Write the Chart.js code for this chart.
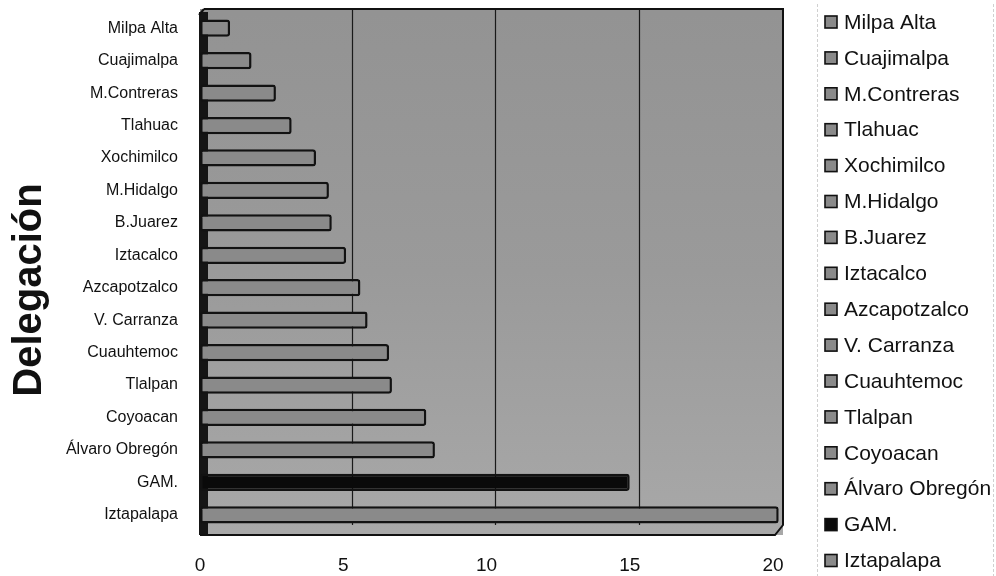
<!DOCTYPE html>
<html>
<head>
<meta charset="utf-8">
<script src="https://cdn.jsdelivr.net/npm/chart.js@4.4.1/dist/chart.umd.min.js"></script>
<style>
html,body{margin:0;padding:0;background:#fff;}
#wrap{width:996px;height:576px;position:relative;}
</style>
</head>
<body>
<div id="wrap"><canvas id="c" width="996" height="576"></canvas></div>
<script>
const categories = ['Milpa Alta','Cuajimalpa','M.Contreras','Tlahuac','Xochimilco','M.Hidalgo','B.Juarez','Iztacalco','Azcapotzalco','V. Carranza','Cuauhtemoc','Tlalpan','Coyoacan','Álvaro Obregón','GAM.','Iztapalapa'];
const values = [1.05, 1.8, 2.65, 3.2, 4.05, 4.5, 4.6, 5.1, 5.6, 5.85, 6.6, 6.7, 7.9, 8.2, 15.0, 20.2];
const xTicks = [0, 5, 10, 15, 20];
const axisTitle = 'Delegación';

const FONT = '"Liberation Sans", Arial, sans-serif';
const barFill = categories.map(c => c === 'GAM.' ? '#0a0a0a' : '#8a8a8a');

const bgPlugin = {
  id: 'bg3d',
  beforeDatasetsDraw(chart) {
    const {ctx, chartArea: a, scales: {x}} = chart;
    ctx.save();
    const g = ctx.createLinearGradient(0, a.top, 0, a.bottom);
    g.addColorStop(0, '#939393');
    g.addColorStop(0.5, '#9a9a9a');
    g.addColorStop(1, '#a8a8a8');
    ctx.fillStyle = g;
    ctx.fillRect(a.left, a.top - 3, a.right - a.left, a.bottom - a.top + 7);
    // back-wall gridlines (shifted for 3D look)
    ctx.strokeStyle = '#1a1a1a';
    ctx.lineWidth = 1.2;
    xTicks.slice(1, -1).forEach(v => {
      const px = Math.round(x.getPixelForValue(v)) + 9.5;
      ctx.beginPath(); ctx.moveTo(px, a.top - 2); ctx.lineTo(px, a.bottom - 6); ctx.stroke();
    });
    // dark left side wall
    ctx.fillStyle = '#151515';
    ctx.fillRect(a.left - 1, a.top, 9, a.bottom - a.top + 4);
    ctx.restore();
  },
  afterDatasetsDraw(chart) {
    const {ctx, chartArea: a} = chart;
    ctx.save();
    ctx.strokeStyle = '#111';
    ctx.lineWidth = 2;
    ctx.beginPath();
    ctx.moveTo(a.left + 4, a.top - 3);
    ctx.lineTo(a.right, a.top - 3);
    ctx.lineTo(a.right, a.bottom - 6);
    ctx.lineTo(a.right - 8, a.bottom + 4);
    ctx.lineTo(a.left, a.bottom + 4);
    ctx.stroke();
    ctx.beginPath();
    ctx.moveTo(a.left + 4, a.top - 3);
    ctx.lineTo(a.left - 1, a.top + 3);
    ctx.stroke();
    ctx.restore();
  }
};

const titlePlugin = {
  id: 'yTitle',
  afterDraw(chart) {
    const {ctx} = chart;
    ctx.save();
    ctx.translate(30, 290);
    ctx.rotate(-Math.PI / 2);
    ctx.font = 'bold 40px ' + FONT;
    ctx.fillStyle = '#111';
    ctx.textAlign = 'center';
    ctx.textBaseline = 'middle';
    ctx.fillText(axisTitle, 0, 0);
    ctx.restore();
  }
};

const legendPlugin = {
  id: 'sideLegend',
  afterDraw(chart) {
    const {ctx} = chart;
    const labels = chart.data.labels;
    const colors = chart.data.datasets[0].backgroundColor;
    ctx.save();
    ctx.strokeStyle = '#d0d0d0';
    ctx.lineWidth = 1;
    ctx.setLineDash([3, 2]);
    ctx.beginPath(); ctx.moveTo(817.5, 4); ctx.lineTo(817.5, 576); ctx.stroke();
    ctx.beginPath(); ctx.moveTo(993.5, 4); ctx.lineTo(993.5, 576); ctx.stroke();
    ctx.setLineDash([]);
    ctx.font = '21px ' + FONT;
    ctx.textBaseline = 'middle';
    ctx.textAlign = 'left';
    labels.forEach((lab, i) => {
      const cy = 22 + i * 35.9;
      ctx.fillStyle = colors[i];
      ctx.fillRect(825, cy - 6, 12, 12);
      ctx.strokeStyle = '#111';
      ctx.lineWidth = 1.6;
      ctx.strokeRect(825, cy - 6, 12, 12);
      ctx.fillStyle = '#111';
      ctx.fillText(lab, 844, cy + 1);
    });
    ctx.restore();
  }
};

new Chart(document.getElementById('c'), {
  type: 'bar',
  data: {
    labels: categories,
    datasets: [{
      data: values,
      backgroundColor: barFill,
      borderColor: '#121212',
      borderWidth: 2.5,
      borderRadius: 3,
      borderSkipped: false,
      categoryPercentage: 1,
      barPercentage: 0.53
    }]
  },
  options: {
    indexAxis: 'y',
    responsive: false,
    animation: false,
    devicePixelRatio: 1,
    layout: { padding: { top: 12, right: 213, left: 0, bottom: 0 } },
    plugins: { legend: { display: false }, tooltip: { enabled: false } },
    scales: {
      x: {
        type: 'linear',
        min: 0,
        max: 20.35,
        afterFit(s) { s.height = 45; s.paddingLeft = 0; s.paddingRight = 0; },
        afterBuildTicks(s) { s.ticks = xTicks.map(v => ({ value: v })); },
        grid: { display: false, drawTicks: false },
        border: { display: false },
        ticks: { color: '#111', font: { family: FONT, size: 19 }, padding: 23, maxRotation: 0 }
      },
      y: {
        afterFit(s) { s.width = 200; s.paddingTop = 0; s.paddingBottom = 0; },
        grid: { display: false, drawTicks: false },
        border: { display: false },
        ticks: { color: '#111', font: { family: FONT, size: 16 }, padding: 22 }
      }
    }
  },
  plugins: [bgPlugin, titlePlugin, legendPlugin]
});
</script>
</body>
</html>
